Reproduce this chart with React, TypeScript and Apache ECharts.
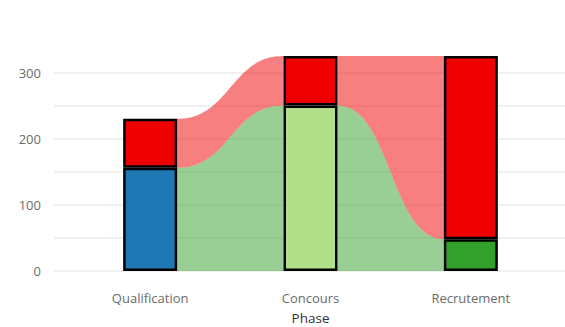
import React, { useEffect, useRef } from "react";
import * as echarts from "echarts";

const phases = ["Qualification", "Concours", "Recrutement"];
const lowerValues = [156, 250, 48];
const upperValues = [74, 75, 277];
const lowerColors = ["#1f77b4", "#b2df8a", "#33a02c"];
const upperColor = "#ee0000";
const yLabelTicks = [0, 100, 200, 300];

export default function App() {
  const ref = useRef<HTMLDivElement>(null);
  useEffect(() => {
    if (!ref.current) return;
    document.body.style.margin = "0";
    const chart = echarts.init(ref.current, null, { renderer: "svg" });
    const totals = lowerValues.map((v, i) => v + upperValues[i]);
    const yMax = Math.max(...totals);
    const barW = 54;
    const half = barW / 2;
    const links = phases.slice(0, -1).map((_, i) => [i, 0]);
    const font = "Open Sans";

    const ribbon = (bottoms: number[], tops: number[], fill: string) =>
      (params: any, api: any) => {
        const i = api.value(0);
        const x0 = api.coord([i, 0])[0] + half;
        const x1 = api.coord([i + 1, 0])[0] - half;
        const xm = (x0 + x1) / 2;
        const t0 = api.coord([i, tops[i]])[1];
        const t1 = api.coord([i + 1, tops[i + 1]])[1];
        const b0 = api.coord([i, bottoms[i]])[1];
        const b1 = api.coord([i + 1, bottoms[i + 1]])[1];
        const d =
          `M${x0},${t0} C${xm},${t0} ${xm},${t1} ${x1},${t1} ` +
          `L${x1},${b1} C${xm},${b1} ${xm},${b0} ${x0},${b0} Z`;
        return { type: "path", shape: { pathData: d }, style: { fill } };
      };

    chart.setOption({
      animation: false,
      grid: [
        { left: 54, right: 0, top: 56, bottom: 56, containLabel: false, outerBoundsMode: "none" },
        { left: 70, right: 14, top: 56, bottom: 56, containLabel: false, outerBoundsMode: "none" },
      ],
      xAxis: [
        { type: "value", gridIndex: 0, min: 0, max: 1, show: false },
        {
          type: "category",
          gridIndex: 1,
          data: phases,
          axisLine: { show: false },
          axisTick: { show: false },
          axisLabel: {
            color: "#6b6b6b",
            fontFamily: font,
            fontSize: 13,
            margin: 20,
          },
          name: "Phase",
          nameLocation: "middle",
          nameGap: 40,
          nameTextStyle: { color: "#333", fontFamily: font, fontSize: 13.5 },
        },
      ],
      yAxis: [
        {
          type: "value",
          gridIndex: 0,
          min: 0,
          max: yMax,
          interval: 50,
          axisLine: { show: false },
          axisTick: { show: false },
          axisLabel: {
            formatter: (v: number) => (yLabelTicks.includes(v) ? String(v) : ""),
            color: "#6b6b6b",
            fontFamily: font,
            fontSize: 13,
            margin: 13,
          },
          splitLine: {
            show: true,
            showMaxLine: false,
            lineStyle: { color: "#ebebeb", width: 1.5 },
          },
        },
        { type: "value", gridIndex: 1, min: 0, max: yMax, show: false, splitLine: { show: false } },
      ],
      series: [
        {
          type: "custom",
          xAxisIndex: 1,
          yAxisIndex: 1,
          z: 1,
          data: links,
          renderItem: ribbon(lowerValues.map(() => 0), lowerValues, "rgba(51,160,44,0.5)"),
        },
        {
          type: "custom",
          xAxisIndex: 1,
          yAxisIndex: 1,
          z: 1,
          data: links,
          renderItem: ribbon(lowerValues, totals, "rgba(240,0,0,0.5)"),
        },
        {
          type: "bar",
          xAxisIndex: 1,
          yAxisIndex: 1,
          stack: "s",
          z: 3,
          barWidth: barW,
          data: lowerValues.map((v, i) => ({
            value: v,
            itemStyle: { color: lowerColors[i] },
          })),
          itemStyle: { borderColor: "#000", borderWidth: 2.5 },
        },
        {
          type: "bar",
          xAxisIndex: 1,
          yAxisIndex: 1,
          stack: "s",
          z: 3,
          barWidth: barW,
          data: upperValues,
          itemStyle: { color: upperColor, borderColor: "#000", borderWidth: 2.5 },
        },
      ],
    });
    return () => chart.dispose();
  }, []);
  return <div ref={ref} style={{ width: 565, height: 327 }} />;
}
